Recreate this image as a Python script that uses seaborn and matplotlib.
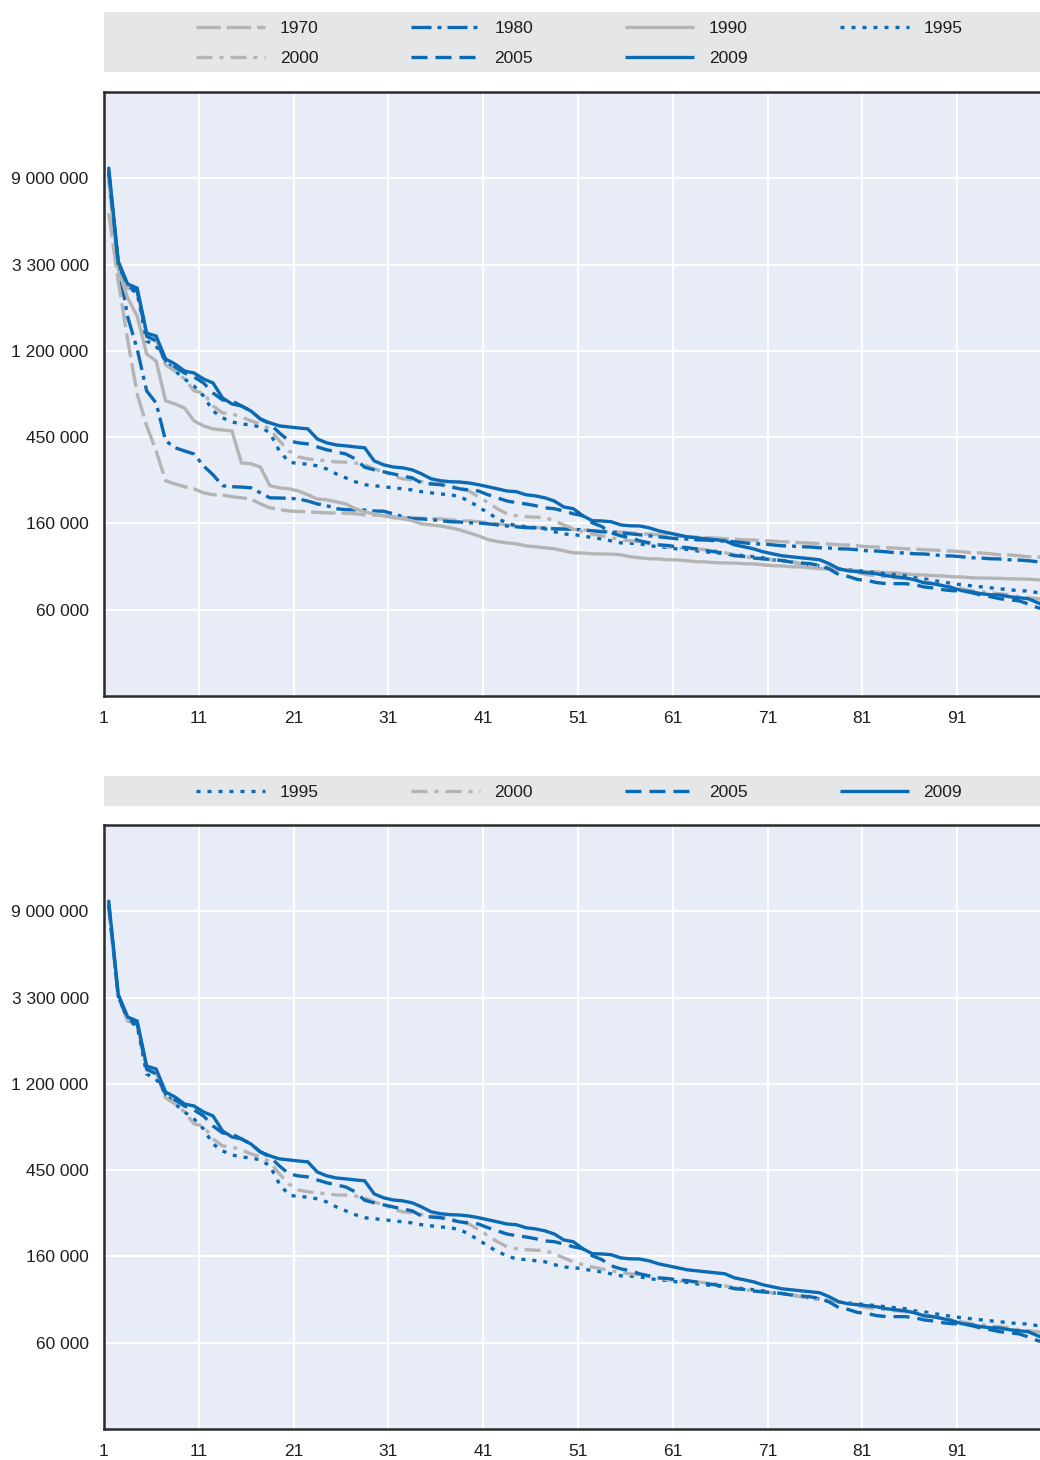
import numpy as np
import matplotlib
matplotlib.use("Agg")
import matplotlib.pyplot as plt
import seaborn as sns
from matplotlib import font_manager
from matplotlib.ticker import FixedLocator, NullLocator

# Population of the 100 largest urban areas, ranked, in thousands of inhabitants
ranks = np.arange(1, 101)

pop_1970 = [5930, 2700, 1363, 730, 504, 377, 267, 257, 249, 243,
            232, 227, 226, 222, 219, 216, 204, 195, 191, 188,
            187, 186, 185, 184, 183.5, 183, 182, 180, 179.5, 178,
            176, 174, 173.5, 173, 172, 171.5, 170, 168, 167.5, 166,
            164, 162, 160, 158, 156.5, 155, 154.5, 153, 152.5, 152,
            151, 149.4, 149, 147.7, 147.3, 146, 144.3, 144, 142.7, 141,
            140.7, 139.4, 139, 137.8, 137.4, 136.2, 135.8, 134.6, 134.2, 133.1,
            132.7, 131.6, 131.2, 130, 129.7, 128.6, 128.2, 127, 126.7, 125.6,
            124.2, 123.9, 122.7, 122.4, 121.3, 121, 119.9, 119.6, 118.5, 118.2,
            117.2, 115.8, 115.6, 114.5, 113.2, 113, 111.9, 110.6, 110.4, 109.3]

pop_1980 = [9430, 3330, 1780, 1228, 756, 657, 424, 391, 377, 364,
            317, 286, 252, 249, 248, 246, 232, 219, 218.5, 218,
            216, 211, 204, 200, 193, 191, 190.5, 190, 188, 187.5,
            182, 176, 172, 171.5, 170, 168, 166, 165.5, 164, 163.5,
            162, 160, 158, 156.5, 155, 154.5, 154, 153, 152.5, 152,
            151, 149.4, 147.7, 147.3, 146, 144.3, 142.7, 141, 139.4, 137.8,
            136.2, 135.8, 134.6, 134.2, 133.1, 132.7, 131.6, 130, 128.6, 128.2,
            127, 125.6, 125.3, 124.2, 123.9, 122.7, 122.4, 121.3, 121, 119.9,
            118.5, 118.2, 117.2, 115.8, 115.6, 114.5, 114.2, 113.2, 111.9, 111.6,
            110.6, 109.3, 109, 108.1, 107.8, 106.8, 106.5, 105.6, 104.4, 103.2]

pop_1990 = [8600, 3100, 2217, 1800, 1159, 1069, 673, 650, 620, 534,
            504, 487, 481, 475, 328, 325, 313, 252, 246, 243,
            237, 227, 216, 214, 209, 204, 193, 186, 182, 178,
            174, 172, 168, 162, 160, 158, 155, 151, 146, 141,
            135, 132, 130, 128.5, 125.6, 124.2, 122.7, 121.3, 118.5, 115.8,
            115.5, 114.5, 114.3, 114, 113.2, 110.6, 109.3, 108.1, 107.8, 106.8,
            106.6, 105.6, 104.4, 104.2, 103.2, 103, 102.8, 102, 101.8, 100.8,
            99.7, 99.5, 98.5, 98.3, 97.4, 96.3, 96.1, 95.1, 94.9, 94,
            93, 92.8, 91.9, 91.7, 90.8, 89.8, 89.6, 88.8, 88.6, 87.7,
            87.5, 86.7, 86.5, 86.3, 86.1, 85.7, 85.5, 85.3, 84.7, 84.5]

pop_1995 = [9425, 3325, 2519, 2346, 1348, 1272, 1069, 952, 868, 800,
            713, 599, 553, 528, 515, 510, 498, 465, 377, 332,
            325, 324, 317, 306, 289, 276, 264, 255, 252, 249,
            246, 243, 240, 235, 232, 229, 227, 222, 211, 197,
            184, 172, 164, 158, 157, 155, 153, 148, 144, 143,
            141, 138, 136, 133, 130, 129.5, 128.5, 126, 124, 123,
            121, 120.5, 118.5, 117, 116, 114.5, 113, 112, 110.6, 109.3,
            106.8, 105.6, 104.4, 102, 100.8, 99.6, 97.4, 96.2, 95.1, 94,
            93, 91.9, 90.8, 89.8, 88.8, 86.7, 85.7, 83.8, 82.8, 80.9,
            80, 79, 78.1, 77.2, 76.3, 75.5, 74.6, 74.4, 72.9, 71.2]

pop_2000 = [9100, 3300, 2490, 2404, 1411, 1363, 1021, 952, 868, 756,
            738, 635, 586, 579, 559, 534, 516, 487, 424, 377,
            352, 344, 340, 336, 332, 331, 328, 321, 306, 296,
            282, 273, 270, 264, 260, 257, 252, 243, 237, 222,
            207, 193, 182, 178, 176, 175, 174, 168, 160, 153,
            148, 144, 141, 138, 135, 133, 131.6, 128.6, 127, 124,
            122.7, 121.3, 121, 120, 118.5, 115.8, 113.2, 110.6, 109.3, 108,
            106.8, 105.6, 104.4, 102, 99.6, 98.5, 97.4, 96.2, 95.1, 91.9,
            89.8, 88.8, 87.7, 86.7, 85.7, 84.7, 83.8, 80.9, 79, 78.1,
            76.4, 74.6, 73.7, 72.9, 72, 71.2, 69.6, 68.8, 68, 66.4]

pop_2005 = [9650, 3325, 2548, 2404, 1428, 1348, 1069, 997, 930, 888,
            829, 738, 681, 673, 635, 599, 546, 516, 465, 424,
            414, 409, 395, 382, 373, 364, 344, 312, 303, 296,
            289, 282, 276, 260, 257, 255, 249, 243, 240, 237,
            227, 219, 211, 207, 204, 200, 195, 193, 188, 182,
            178, 164, 157, 146, 141, 138, 133, 130, 127, 126,
            124, 123, 121, 119, 117, 115, 112, 111, 109, 108,
            107, 106, 104, 103, 102, 100, 96, 90, 88, 85,
            84, 82, 81, 81, 81, 80, 78, 77, 75.5, 74.6,
            74.6, 73, 71, 69.6, 68, 67.2, 66.4, 64, 61.3, 59.9]

pop_2009 = [9990, 3400, 2608, 2490, 1478, 1428, 1094, 1032, 952, 930,
            868, 829, 697, 650, 635, 599, 546, 522, 504, 498,
            492, 487, 433, 414, 404, 400, 395, 391, 336, 321,
            313, 310, 303, 289, 273, 267, 264, 263, 260, 255,
            249, 243, 237, 235, 227, 224, 219, 211, 197, 193,
            178, 168, 167.5, 166, 160, 158.3, 158, 154.7, 149.4, 146,
            142.7, 139.4, 137.8, 136.2, 134.6, 133.1, 127, 124.2, 121.3, 117.2,
            114.5, 111.9, 110.6, 109.3, 108.1, 106.8, 102, 96.3, 94, 93,
            91.9, 90.8, 88.8, 87.7, 86.7, 84.7, 81.8, 80.9, 79.1, 77.2,
            74.6, 73.7, 72.1, 71.2, 71, 69.6, 68.8, 68, 64.9, 62]

series = {"1970": pop_1970, "1980": pop_1980, "1990": pop_1990, "1995": pop_1995,
          "2000": pop_2000, "2005": pop_2005, "2009": pop_2009}

years_top = ["1970", "1980", "1990", "1995", "2000", "2005", "2009"]
years_bottom = ["1995", "2000", "2005", "2009"]

y_tick_labels = ["60 000", "160 000", "450 000", "1 200 000", "3 300 000", "9 000 000"]
x_tick_labels = ["1", "11", "21", "31", "41", "51", "61", "71", "81", "91"]

# ---------------------------------------------------------------- style
sns.set_theme(style="white")
installed = {f.name for f in font_manager.fontManager.ttflist}
if "Liberation Sans Narrow" in installed:
    main_font, FS = "Liberation Sans Narrow", 13.5
elif "Liberation Sans" in installed:
    main_font, FS = "Liberation Sans", 12.5
else:
    main_font, FS = "DejaVu Sans", 11.5
plt.rcParams["font.family"] = [main_font, "DejaVu Sans"]

BLUE = "#0a6ab4"
GREY = "#b4b4b4"
PLOT_BG = "#e8ecf7"
BAND_BG = "#e5e6e8"
FRAME = "#2b2b2b"
TEXT = "#1e1e1e"
LW = 2.4

line_styles = {
    "1970": (GREY, (0, (7.3, 1.8))),
    "1980": (BLUE, (0, (6.0, 1.8, 1.2, 1.8))),
    "1990": (GREY, "-"),
    "1995": (BLUE, (0, (1.2, 2.1))),
    "2000": (GREY, (0, (4.8, 2.1, 1.2, 2.1))),
    "2005": (BLUE, (0, (4.8, 2.4))),
    "2009": (BLUE, "-"),
}

W, H = 1040, 1460
fig = plt.figure(figsize=(W / 100, H / 100), dpi=100)
fig.patch.set_facecolor("white")


def draw_band(top, bottom, years, row_centres):
    band = fig.add_axes([104 / W, 1 - bottom / H, (1040 - 104) / W, (bottom - top) / H])
    band.set_facecolor(BAND_BG)
    band.set_xlim(0, 936)
    band.set_ylim(bottom - top, 0)
    band.set_xticks([])
    band.set_yticks([])
    for s in band.spines.values():
        s.set_visible(False)
    for i, year in enumerate(years):
        col, row = i % 4, i // 4
        x0 = 92 + col * 214.5
        yc = row_centres[row]
        color, ls = line_styles[year]
        band.plot([x0, x0 + 69], [yc, yc], color=color, lw=LW, linestyle=ls,
                  solid_capstyle="butt", dash_capstyle="butt")
        band.text(x0 + 84, yc + 1.5, year, ha="left", va="center", fontsize=FS, color=TEXT)


def draw_panel(top, bottom, years):
    ax = fig.add_axes([104 / W, 1 - bottom / H, 948 / W, (bottom - top) / H])
    ax.set_facecolor(PLOT_BG)
    for year in years:
        color, ls = line_styles[year]
        sns.lineplot(x=ranks, y=np.asarray(series[year]) * 1000, ax=ax, color=color,
                     linewidth=LW, linestyle=ls, legend=False,
                     solid_joinstyle="miter", dash_capstyle="butt")
    ax.set_yscale("log")
    ax.set_ylim(np.exp(10), np.exp(17))
    ax.yaxis.set_major_locator(FixedLocator(np.exp(np.arange(11, 17))))
    ax.yaxis.set_minor_locator(NullLocator())
    ax.set_yticklabels(y_tick_labels)
    ax.set_xlim(0.5, 100.5)
    ax.set_xticks(np.arange(0.5, 100, 10))
    ax.set_xticklabels(x_tick_labels)
    ax.set_xlabel("")
    ax.set_ylabel("")
    ax.grid(True, color="white", linewidth=1.5)
    ax.set_axisbelow(True)
    for s in ax.spines.values():
        s.set_color(FRAME)
        s.set_linewidth(1.8)
    ax.tick_params(axis="both", direction="in", length=5, width=1.3, color=FRAME,
                   labelsize=FS, labelcolor=TEXT)
    ax.tick_params(axis="y", pad=11)
    ax.tick_params(axis="x", pad=11)
    return ax


draw_band(12, 72, years_top, [15, 45])
draw_panel(92, 696, years_top)
draw_band(776, 806, years_bottom, [15])
draw_panel(825, 1429, years_bottom)

fig.savefig("out.png", dpi=100)
